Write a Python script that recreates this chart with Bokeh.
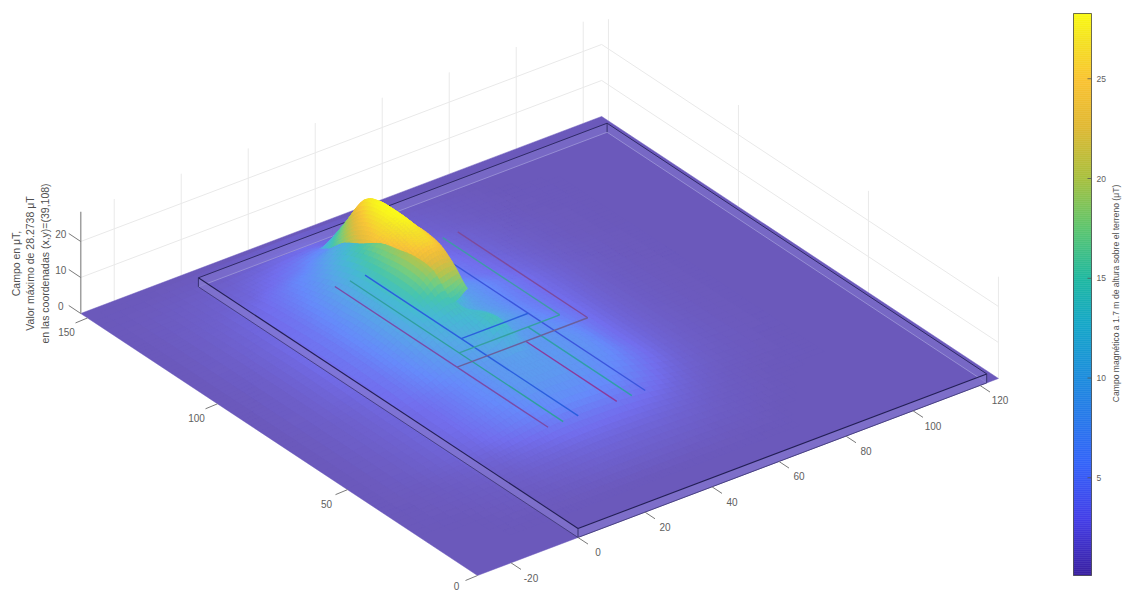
import numpy as np
from bokeh.plotting import figure
from bokeh.models import Range1d
from bokeh.core.properties import value
from bokeh.embed import file_html
from bokeh.resources import INLINE

# ---- axes ----
X_LIM = [-30.0, 125.5]
Y_LIM = [0.0, 152.6]
Z_TOP = 28.27
X_TICKS = [-20, 0, 20, 40, 60, 80, 100, 120]
Y_TICKS = [0, 50, 100, 150]
Z_TICKS = [0, 10, 20]
CB_TICKS = [5, 10, 15, 20, 25]
CB_MIN, CB_MAX = 0.1, 28.27
FLOOR_Z = 0.3

# ---- fence box ----
BOX_X = [0.0, 122.0]
BOX_Y = [0.0, 146.0]
BOX_Z = 2.5
BOX_SPLIT_X = 40.0

# ---- conductors: X from, X to, Y from, Y to ----
WIRES_BACK = [
    (65.0, 65.0, 130.0, 80.0, "#7d4a9c"),
    (60.5, 60.5, 130.0, 85.0, "#3f9aa6"),
    (55.0, 55.0, 130.0, 45.0, "#3a55dc"),
]
WIRES_FRONT = [
    (26.0, 26.0, 127.0, 45.0, "#7b4aa6"),
    (30.5, 30.5, 127.0, 45.0, "#2f9f9c"),
    (35.0, 35.0, 127.0, 45.0, "#2a5ede"),
    (46.5, 46.5, 80.0, 45.0, "#8a3a9c"),
    (51.0, 51.0, 85.0, 45.0, "#2f9fa6"),
    (26.0, 65.0, 80.0, 80.0, "#6a5f9c"),
    (30.5, 60.5, 85.0, 85.0, "#35a0a0"),
    (35.0, 55.0, 90.0, 90.0, "#2a60dc"),
]

# ---- upper sheet of the field (uT) ----
A_X = [15, 20, 25, 30, 33]
A_Y = [135, 130, 125, 120, 115, 110, 105, 100, 95, 90, 85]
A_Z = [
    [3.0, 4.5, 5.5, 6.0, 3.0],
    [5.0, 7.5, 10.0, 12.0, 6.0],
    [6.5, 11.0, 15.5, 19.0, 10.0],
    [9.0, 15.0, 21.0, 26.0, 14.0],
    [12.0, 19.0, 25.0, 28.0, 22.0],
    [14.0, 22.0, 26.5, 28.27, 24.0],
    [15.0, 23.5, 26.5, 28.0, 25.0],
    [15.0, 22.5, 25.5, 27.0, 25.0],
    [14.0, 20.0, 24.0, 25.5, 24.0],
    [12.0, 16.0, 19.0, 21.0, 21.0],
    [10.0, 12.0, 14.0, 15.0, 17.0],
]

# ---- main sheet of the field (uT) ----
B_X = [-30, -15, -5, 5, 10, 15, 20, 25, 29, 33, 38, 45, 52, 60, 68, 76, 85, 100]
B_Y = [150, 140, 132, 127, 120, 113, 106, 100, 93, 87, 80, 73, 65, 55, 45, 38, 30, 20, 10]
B_Z = [
    [.3, .3, .4, .5, .6, .7, .8, .9, 1, 1, .9, .8, .6, .5, .4, .3, .3, .3],
    [.3, .6, .9, 1.3, 1.7, 2.1, 2.6, 3, 3.2, 2.8, 2.2, 1.6, 1.2, 1, .7, .5, .3, .3],
    [.3, .8, 1.2, 2, 2.8, 3.7, 4.8, 6.5, 7, 5, 3.6, 2.4, 1.8, 1.3, .9, .6, .4, .3],
    [.3, .9, 1.5, 2.8, 4, 5.5, 7, 10, 11, 7, 5, 3.2, 2.4, 1.7, 1.1, .7, .4, .3],
    [.3, 1, 1.8, 3.4, 5, 7, 10, 13.5, 14, 9, 6, 4, 3, 2, 1.3, .8, .5, .3],
    [.3, 1.1, 2, 3.8, 5.8, 8.5, 12, 15.5, 17.5, 10, 7, 5, 3.6, 2.4, 1.5, .9, .5, .3],
    [.3, 1.1, 2.2, 4.2, 6.2, 9, 13, 16.5, 19, 11, 8, 5.5, 4, 2.7, 1.7, 1, .6, .3],
    [.3, 1.1, 2.3, 4.4, 6.5, 9.5, 13, 17, 20, 12, 9, 7, 5, 3.2, 1.9, 1.1, .6, .3],
    [.3, 1.1, 2.3, 4.4, 6.5, 9.5, 13, 16.5, 19.5, 15, 9.5, 7, 5, 3.2, 2, 1.1, .6, .3],
    [.3, 1.1, 2.2, 4.3, 6.3, 9, 12, 14, 15, 11, 9, 7, 5, 3.4, 2, 1.1, .6, .3],
    [.3, 1.1, 2, 4, 5.8, 8, 10.5, 12, 13, 13, 10, 7.5, 5.5, 3.6, 2, 1.1, .6, .3],
    [.3, 1, 1.8, 3.7, 5.2, 7, 8.8, 10, 11.5, 14, 9, 7.5, 6, 3.7, 2, 1.1, .6, .3],
    [.3, 1, 1.7, 3, 4.2, 5.6, 7, 8, 8.5, 9, 8, 7.5, 6.5, 3.7, 2, 1.1, .6, .3],
    [.3, .9, 1.6, 2.9, 4, 5.3, 6.6, 7.8, 8, 8, 7.8, 7, 6, 3.7, 1.9, 1, .6, .3],
    [.3, .8, 1.4, 2.4, 3.3, 4.3, 5.2, 6, 6.2, 6.2, 6, 5.5, 4.4, 2.6, 1.4, .8, .5, .3],
    [.3, .6, 1, 1.6, 2.1, 2.6, 3.1, 3.5, 3.6, 3.6, 3.5, 3.2, 2.6, 1.7, 1, .6, .4, .3],
    [.3, .5, .7, 1, 1.3, 1.5, 1.7, 1.9, 2, 2, 1.9, 1.8, 1.5, 1.1, .7, .5, .3, .3],
    [.3, .3, .5, .6, .7, .8, .9, 1, 1, 1, 1, .9, .8, .6, .5, .3, .3, .3],
    [.3] * 18,
]

# ---- texts ----
Z_TITLE = ["Campo en \u03bcT,", "Valor m\u00e1ximo de 28.2738 \u03bcT",
           "en las coordenadas (x,y)=(39,108)"]
CB_TITLE = "Campo magn\u00e9tico a 1.7 m de altura sobre el terreno (\u03bcT)"

# ---- colour scale: position, r, g, b ----
CMAP_POS = [0.0, 0.1, 0.2, 0.35, 0.45, 0.53, 0.62, 0.71, 0.80, 0.88, 0.95, 1.0]
CMAP_R = [58, 68, 52, 30, 22, 32, 95, 170, 225, 250, 245, 250]
CMAP_G = [32, 62, 100, 140, 168, 185, 198, 192, 185, 195, 225, 250]
CMAP_B = [160, 232, 250, 222, 200, 160, 110, 62, 52, 50, 35, 20]

FONT = value("Liberation Sans")


def project(x, y, z=0.0):
    a = np.asarray(x, float) + 30.0
    y = np.asarray(y, float)
    z = np.asarray(z, float)
    return 477 + 3.35 * a - 2.6 * y, 575 - 1.267 * a - 1.717 * y - 3.6 * z


def rgb_of(z):
    t = np.clip((np.asarray(z, float) - CB_MIN) / (CB_MAX - CB_MIN), 0, 1)
    return np.interp(t, CMAP_POS, CMAP_R), np.interp(t, CMAP_POS, CMAP_G), np.interp(t, CMAP_POS, CMAP_B)


def hexes(r, g, b):
    return ["#%02x%02x%02x" % (int(a), int(c), int(d)) for a, c, d in zip(r, g, b)]


def surf_color(z):
    z = np.asarray(z, float)
    r, g, b = rgb_of(z)
    alpha = 0.75 + 0.22 * np.clip((z - 10) / 14, 0, 1)
    return hexes(r * alpha + 255 * (1 - alpha), g * alpha + 255 * (1 - alpha), b * alpha + 255 * (1 - alpha))


def shade_1d(values, sub):
    # smooth (interpolated) shading of one mesh line
    v = np.asarray(values, float)
    e = np.concatenate([[v[0]], v, [v[-1]]])
    out = []
    for k in range(len(v) - 1):
        p0, p1, p2, p3 = e[k], e[k + 1], e[k + 2], e[k + 3]
        for s in range(sub):
            t = s / sub
            out.append(0.5 * (2 * p1 + (p2 - p0) * t + (2 * p0 - 5 * p1 + 4 * p2 - p3) * t ** 2
                              + (3 * p1 - p0 - 3 * p2 + p3) * t ** 3))
    out.append(v[-1])
    return np.array(out)


def mesh(p, xs, ys, zs, sub, xmin=-1e9, xmax=1e9):
    xs = np.asarray(xs, float)
    ys = np.asarray(ys, float)
    zs = np.asarray(zs, float)
    fx = np.interp(np.arange(0, len(xs) - 1 + 1e-9, 1 / sub), np.arange(len(xs)), xs)
    fy = np.interp(np.arange(0, len(ys) - 1 + 1e-9, 1 / sub), np.arange(len(ys)), ys)
    tmp = np.array([shade_1d(col, sub) for col in zs.T]).T
    fz = np.array([shade_1d(row, sub) for row in tmp])
    fz = np.clip(fz, FLOOR_Z, CB_MAX)
    polyx, polyy, vals = [], [], []
    for i in range(len(fx) - 2, -1, -1):
        if fx[i] < xmin - 1e-6 or fx[i + 1] > xmax + 1e-6:
            continue
        for j in range(len(fy) - 1):
            c = fz[j:j + 2, i:i + 2]
            if c.max() <= FLOOR_Z + 0.01:
                continue
            qx = [fx[i], fx[i + 1], fx[i + 1], fx[i]]
            qy = [fy[j], fy[j], fy[j + 1], fy[j + 1]]
            qz = [c[0, 0], c[0, 1], c[1, 1], c[1, 0]]
            sx, sy = project(qx, qy, qz)
            polyx.append(list(sx))
            polyy.append(list(sy))
            vals.append(c.mean())
    cols = surf_color(vals)
    p.patches(polyx, polyy, fill_color=cols, line_color=cols, line_width=0.8)


def seg(p, x0, y0, z0, x1, y1, z1, color, width=1.0, alpha=1.0):
    a, b = project([x0, x1], [y0, y1], [z0, z1])
    p.line(list(a), list(b), line_color=color, line_width=width, line_alpha=alpha)


def rear_wall(p, xa, ya, xb, yb):
    sx, sy = project([xa, xb, xb, xa], [ya, yb, yb, ya], [0, 0, BOX_Z, BOX_Z])
    p.patch(list(sx), list(sy), fill_color="#8478cf", fill_alpha=0.5, line_color=None)
    seg(p, xa, ya, 0, xb, yb, 0, "#9a92d6", 0.9)
    seg(p, xa, ya, BOX_Z, xb, yb, BOX_Z, "#2f2a66", 1.0)


p = figure(width=1126, height=592, x_range=Range1d(0, 1126), y_range=Range1d(592, 0),
           output_backend="svg", toolbar_location=None, min_border=0, outline_line_color=None,
           background_fill_color="white", border_fill_color="white")
p.axis.visible = False
p.grid.visible = False

# back planes
GRID = "#e9e9e9"
for t in X_TICKS:
    seg(p, t, Y_LIM[1], 0, t, Y_LIM[1], Z_TOP, GRID)
for t in Y_TICKS:
    seg(p, X_LIM[1], t, 0, X_LIM[1], t, Z_TOP, GRID)
for t in Z_TICKS[1:]:
    seg(p, X_LIM[0], Y_LIM[1], t, X_LIM[1], Y_LIM[1], t, GRID)
    seg(p, X_LIM[1], Y_LIM[1], t, X_LIM[1], Y_LIM[0], t, GRID)

# floor
fx, fy = project([X_LIM[0], X_LIM[1], X_LIM[1], X_LIM[0]], [Y_LIM[0], Y_LIM[0], Y_LIM[1], Y_LIM[1]])
p.patch(list(fx), list(fy), fill_color=surf_color([FLOOR_Z])[0], line_color=surf_color([FLOOR_Z])[0], line_width=0.5)

# rear part of the main sheet
mesh(p, B_X, B_Y, B_Z, 4, xmin=29)

# fence rear walls, the part the hump hides
rear_wall(p, BOX_SPLIT_X, BOX_Y[1], BOX_X[1], BOX_Y[1])
rear_wall(p, BOX_X[1], BOX_Y[1], BOX_X[1], BOX_Y[0])

for w in WIRES_BACK:
    seg(p, w[0], w[2], 0, w[1], w[3], 0, w[4], 1.4)

# upper sheet, then front part of the main sheet
mesh(p, A_X, A_Y, A_Z, 6)
mesh(p, B_X, B_Y, B_Z, 4, xmax=29)

rear_wall(p, BOX_X[0], BOX_Y[1], BOX_SPLIT_X, BOX_Y[1])

# fence front walls
for (xa, ya, xb, yb) in [(BOX_X[0], BOX_Y[1], BOX_X[0], BOX_Y[0]), (BOX_X[0], BOX_Y[0], BOX_X[1], BOX_Y[0])]:
    sx, sy = project([xa, xb, xb, xa], [ya, yb, yb, ya], [0, 0, BOX_Z, BOX_Z])
    p.patch(list(sx), list(sy), fill_color="#8478cf", fill_alpha=0.7, line_color=None)
    seg(p, xa, ya, 0, xb, yb, 0, "#3a3470", 0.8)
    seg(p, xa, ya, BOX_Z, xb, yb, BOX_Z, "#231f55", 1.1)
for (xa, ya) in [(BOX_X[0], BOX_Y[1]), (BOX_X[0], BOX_Y[0]), (BOX_X[1], BOX_Y[0]), (BOX_X[1], BOX_Y[1])]:
    seg(p, xa, ya, 0, xa, ya, BOX_Z, "#2f2a66", 0.9)

for w in WIRES_FRONT:
    seg(p, w[0], w[2], 0, w[1], w[3], 0, w[4], 1.4)

# z axis
seg(p, X_LIM[0], Y_LIM[1], 0, X_LIM[0], Y_LIM[1], Z_TOP, "#a0a0a0", 1.5)

TICK = "#7a7a7a"
LABEL = "#606060"
tx, ty, tt = [], [], []
for t in X_TICKS:
    a, b = project(t, 0.0)
    p.line([float(a), float(a) + 10], [float(b), float(b) + 6.6], line_color=TICK, line_width=1)
    tx.append(float(a) + 20); ty.append(float(b) + 15); tt.append(str(t))
for t in Y_TICKS:
    a, b = project(X_LIM[0], t)
    p.line([float(a), float(a) - 12], [float(b), float(b) + 5], line_color=TICK, line_width=1)
    tx.append(float(a) - 21); ty.append(min(float(b) + 14, 585.0)); tt.append(str(t))
for t in Z_TICKS:
    a, b = project(X_LIM[0], Y_LIM[1], t)
    p.line([float(a), float(a) - 12], [float(b), float(b) - 8], line_color=TICK, line_width=1)
    tx.append(float(a) - 20); ty.append(float(b) - 7); tt.append(str(t))
p.text(tx, ty, text=tt, text_font=FONT, text_font_size="10px", text_color=LABEL,
       text_align="center", text_baseline="middle")

# z title
p.text([15, 29, 44], [263, 263, 263], text=Z_TITLE, angle=np.pi / 2, text_font=FONT, text_font_size="10.5px",
       text_color="#505050", text_align="center", text_baseline="middle")

# colour bar
CB_L, CB_R = 1073, 1091
def cb_y(v):
    return 577 - 19.95 * np.asarray(v, float)
edges = np.linspace(CB_MIN, CB_MAX, 282)
mids = (edges[:-1] + edges[1:]) / 2
r, g, b = rgb_of(mids)
cb_cols = hexes(r, g, b)
p.quad(left=CB_L, right=CB_R, bottom=cb_y(edges[:-1]), top=cb_y(edges[1:]), fill_color=cb_cols, line_color=cb_cols, line_width=0.5)
p.quad(left=[CB_L], right=[CB_R], bottom=[float(cb_y(CB_MIN))], top=[float(cb_y(CB_MAX))], fill_color=None,
       line_color="#4a4a4a", line_width=0.8)
for t in CB_TICKS:
    p.line([CB_R - 4, CB_R], [float(cb_y(t))] * 2, line_color="#555555", line_width=0.8)
p.text([1096] * len(CB_TICKS), [float(v) for v in cb_y(CB_TICKS)], text=[str(t) for t in CB_TICKS], text_font=FONT,
       text_font_size="8.5px", text_color=LABEL, text_baseline="middle")
p.text([1115], [293], text=[CB_TITLE], angle=np.pi / 2, text_font=FONT, text_font_size="8.6px", text_color="#505050",
       text_align="center", text_baseline="middle")

open("out.html", "w").write(file_html(p, INLINE))
